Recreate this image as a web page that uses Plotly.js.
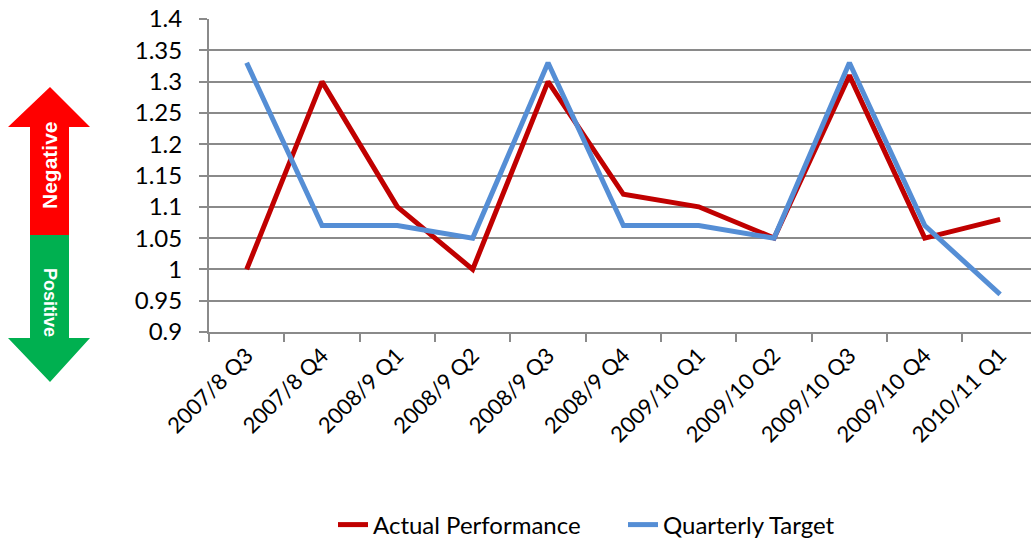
<!DOCTYPE html>
<html>
<head>
<meta charset="utf-8">
<script src="https://cdn.plot.ly/plotly-3.0.1.min.js"></script>
<style>
  html, body { margin: 0; padding: 0; background: #fff; overflow: hidden; }
  #chart { width: 1031px; height: 540px; }
</style>
</head>
<body>
<div id="chart"></div>
<script>
var quarters = ['2007/8 Q3', '2007/8 Q4', '2008/9 Q1', '2008/9 Q2', '2008/9 Q3', '2008/9 Q4',
                '2009/10 Q1', '2009/10 Q2', '2009/10 Q3', '2009/10 Q4', '2010/11 Q1'];
var actual = [1.0, 1.3, 1.1, 1.0, 1.3, 1.12, 1.1, 1.05, 1.31, 1.05, 1.08];
var target = [1.33, 1.07, 1.07, 1.05, 1.33, 1.07, 1.07, 1.05, 1.33, 1.07, 0.96];
var yTickVals = [0.9, 0.95, 1, 1.05, 1.1, 1.15, 1.2, 1.25, 1.3, 1.35, 1.4];
var yTickText = ['0.9', '0.95', '1', '1.05', '1.1', '1.15', '1.2', '1.25', '1.3', '1.35', '1.4'];

var actualColor = '#C00000';
var targetColor = '#558ED5';
var gridColor = '#8A8A8A';

// plot area in pixels, used to place the side arrow in paper units
var plotLeft = 209, plotWidth = 822, plotBottom = 332, plotHeight = 313;
var px = function (x) { return (x - plotLeft) / plotWidth; };
var py = function (y) { return (plotBottom - y) / plotHeight; };
var pathOf = function (pts) {
    return 'M ' + pts.map(function (p) { return px(p[0]) + ',' + py(p[1]); }).join(' L ') + ' Z';
};

var upArrow = [[50, 87], [90, 127], [69, 127], [69, 235], [30, 235], [30, 127], [8, 127]];
var downArrow = [[30, 235], [69, 235], [69, 338], [90, 338], [50, 382], [8, 338], [30, 338]];

var data = [
    {
        x: quarters,
        y: actual,
        name: 'Actual Performance',
        type: 'scatter',
        mode: 'lines',
        line: {color: actualColor, width: 5}
    },
    {
        x: quarters,
        y: target,
        name: 'Quarterly Target',
        type: 'scatter',
        mode: 'lines',
        line: {color: targetColor, width: 5}
    }
];

var layout = {
    width: 1031,
    height: 540,
    margin: {l: plotLeft, r: 0, t: 19, b: 540 - plotBottom, autoexpand: false},
    paper_bgcolor: '#fff',
    plot_bgcolor: '#fff',
    font: {family: 'Lato, "Open Sans", sans-serif', color: '#000'},
    showlegend: true,
    legend: {
        orientation: 'h',
        x: px(333),
        xanchor: 'left',
        y: py(525),
        yanchor: 'middle',
        font: {size: 24},
        entrywidth: 245,
        tracegroupgap: 0
    },
    xaxis: {
        type: 'category',
        range: [-0.5, 10.41],
        tickangle: -45,
        tickfont: {size: 22},
        showgrid: false,
        showline: true,
        linecolor: gridColor,
        linewidth: 2,
        ticks: 'outside',
        tickson: 'boundaries',
        ticklen: 8,
        tickwidth: 2,
        tickcolor: gridColor,
        zeroline: false,
        automargin: false,
        fixedrange: true
    },
    yaxis: {
        range: [0.9, 1.4],
        tickvals: yTickVals,
        ticktext: yTickText,
        tickfont: {size: 24},
        ticklabelstandoff: 12,
        showgrid: true,
        gridcolor: gridColor,
        gridwidth: 2,
        showline: true,
        linecolor: gridColor,
        linewidth: 2,
        ticks: 'outside',
        ticklen: 8,
        tickwidth: 2,
        tickcolor: gridColor,
        zeroline: false,
        automargin: false,
        fixedrange: true
    },
    shapes: [
        {type: 'path', xref: 'paper', yref: 'paper', path: pathOf(upArrow),
         fillcolor: '#FF0000', line: {width: 0}, layer: 'above'},
        {type: 'path', xref: 'paper', yref: 'paper', path: pathOf(downArrow),
         fillcolor: '#00B050', line: {width: 0}, layer: 'above'}
    ],
    annotations: [
        {text: '<b>Negative</b>', xref: 'paper', yref: 'paper', x: px(50), y: py(165),
         xanchor: 'center', yanchor: 'middle',
         textangle: -90, showarrow: false, font: {family: 'Liberation Sans, Arial', size: 21, color: '#fff'}},
        {text: '<b>Positive</b>', xref: 'paper', yref: 'paper', x: px(50), y: py(302),
         xanchor: 'center', yanchor: 'middle',
         textangle: 90, showarrow: false, font: {family: 'Liberation Sans, Arial', size: 18, color: '#fff'}}
    ]
};

Plotly.newPlot('chart', data, layout, {displayModeBar: false, staticPlot: true});
</script>
</body>
</html>
